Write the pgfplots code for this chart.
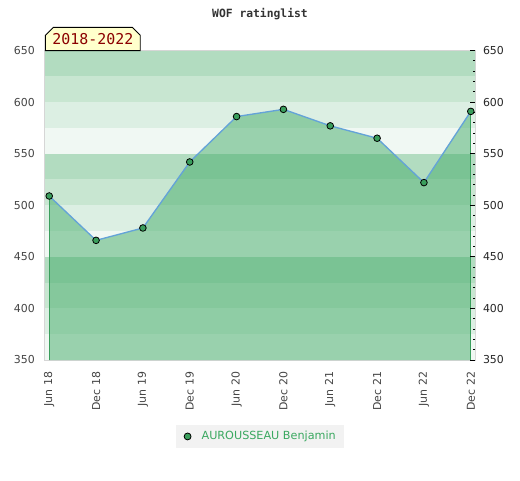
\documentclass[border=0pt]{standalone}
\usepackage{pgfplots}
\pgfplotsset{compat=1.18}
\usepackage{fontspec}
\setmainfont{DejaVu Sans}
\newfontfamily\monofont{DejaVu Sans Mono}
\usetikzlibrary{shapes.misc}
\definecolor{bandA}{HTML}{B2DCC0}
\definecolor{bandB}{HTML}{C8E6D1}
\definecolor{bandC}{HTML}{DCEFE3}
\definecolor{bandD}{HTML}{F0F8F3}
\definecolor{areagreen}{HTML}{44AC69}
\definecolor{edgegreen}{HTML}{3A9E5C}
\definecolor{linecol}{HTML}{64A3D8}
\definecolor{markgreen}{HTML}{3A9E5C}
\definecolor{legtext}{HTML}{3AA860}
\definecolor{legendbg}{HTML}{F2F2F2}
\definecolor{bordergray}{HTML}{D6D6D6}
\definecolor{labgray}{HTML}{444444}
\definecolor{darkred}{HTML}{8B0000}
\definecolor{boxyellow}{HTML}{FFFFCC}

\pgfplotstableread{
x y
0 509
1 466
2 478
3 542
4 586
5 593
6 577
7 565
8 522
9 591
}\ratings

\begin{document}
\begin{tikzpicture}
\useasboundingbox (0,0) rectangle (390pt,-360pt);
\begin{axis}[
  at={(33.75pt,-270pt)}, anchor=south west,
  scale only axis, width=322.5pt, height=232.1pt,
  xmin=-0.09, xmax=9.09, ymin=350, ymax=650,
  xtick={0,...,9},
  xticklabels={Jun 18,Dec 18,Jun 19,Dec 19,Jun 20,Dec 20,Jun 21,Dec 21,Jun 22,Dec 22},
  ytick={350,400,...,650},
  major tick length=0pt, minor tick length=0pt,
  axis line style={draw=bordergray, line width=1.1pt},
  tick label style={font=\fontsize{8.2}{10}\selectfont, text=labgray, inner sep=0pt},
  yticklabel style={xshift=-7.5pt, anchor=east},
  xticklabel style={yshift=-8.8pt, rotate=90, anchor=east},
  /pgf/number format/assume math mode=true,
  legend style={at={(0.5,-0.247)}, anchor=center, draw=none, fill=legendbg,
    font=\fontsize{8.4}{10}\selectfont, inner xsep=4pt, inner ysep=3pt,
    /tikz/every even column/.append style={column sep=0pt},
    nodes={inner sep=2pt}},
  legend cell align=left,
  legend image code/.code={\path[draw=none, fill=none] (-4.5pt,0pt) rectangle (8.5pt,0.1pt); \draw[mark=*, mark size=2.6pt, mark options={fill=markgreen, draw=black, line width=0.6pt}] plot coordinates {(0pt,0pt)};},
]
% background bands
\addplot[draw=none, fill=bandA, forget plot] coordinates {(-1,625) (10,625) (10,650) (-1,650)};
\addplot[draw=none, fill=bandB, forget plot] coordinates {(-1,600) (10,600) (10,625) (-1,625)};
\addplot[draw=none, fill=bandC, forget plot] coordinates {(-1,575) (10,575) (10,600) (-1,600)};
\addplot[draw=none, fill=bandD, forget plot] coordinates {(-1,550) (10,550) (10,575) (-1,575)};
\addplot[draw=none, fill=bandA, forget plot] coordinates {(-1,525) (10,525) (10,550) (-1,550)};
\addplot[draw=none, fill=bandB, forget plot] coordinates {(-1,500) (10,500) (10,525) (-1,525)};
\addplot[draw=none, fill=bandC, forget plot] coordinates {(-1,475) (10,475) (10,500) (-1,500)};
\addplot[draw=none, fill=bandD, forget plot] coordinates {(-1,450) (10,450) (10,475) (-1,475)};
\addplot[draw=none, fill=bandA, forget plot] coordinates {(-1,425) (10,425) (10,450) (-1,450)};
\addplot[draw=none, fill=bandB, forget plot] coordinates {(-1,400) (10,400) (10,425) (-1,425)};
\addplot[draw=none, fill=bandC, forget plot] coordinates {(-1,375) (10,375) (10,400) (-1,400)};
\addplot[draw=none, fill=bandD, forget plot] coordinates {(-1,350) (10,350) (10,375) (-1,375)};
% area
\addplot[draw=none, fill=areagreen, fill opacity=0.5, forget plot] coordinates {
 (0,350) (0,509) (1,466) (2,478) (3,542) (4,586) (5,593) (6,577) (7,565) (8,522) (9,591) (9,350)};
\addplot[edgegreen, line width=0.8pt, forget plot] coordinates {(0,350) (0,509)};
\addplot[edgegreen, line width=0.8pt, forget plot] coordinates {(9,350) (9,591)};
% line
\addplot[linecol, line width=1pt, mark=*, mark size=2.5pt,
  mark options={fill=markgreen, draw=black, line width=0.6pt}] table[x=x, y=y] {\ratings};
\addlegendentry{\textcolor{legtext}{AUROUSSEAU Benjamin}}
\end{axis}
\begin{axis}[
  at={(33.75pt,-270pt)}, anchor=south west,
  scale only axis, width=322.5pt, height=232.1pt,
  xmin=-0.09, xmax=9.09, ymin=350, ymax=650,
  axis x line=none, axis y line*=right,
  axis line style={draw=none},
  ytick={350,400,...,650}, minor y tick num=4,
  tick align=inside,
  major tick length=3.6pt, minor tick length=1.8pt,
  tick style={black, line width=0.6pt},
  tick label style={font=\fontsize{8.2}{10}\selectfont, text=black!85, inner sep=0pt},
  yticklabel style={xshift=5.8pt, anchor=west},
  /pgf/number format/assume math mode=true,
]
\addplot[draw=none] coordinates {(0,350)};
\end{axis}
% title
\node[anchor=base, font=\monofont\bfseries\fontsize{8.5}{10}\selectfont, text=black!80] at (195pt,-13pt) {WOF ratinglist};
% period box
\node[chamfered rectangle, chamfered rectangle corners={north west,north east}, chamfered rectangle xsep=3pt, chamfered rectangle ysep=3pt,
  draw=black, line width=0.7pt, fill=boxyellow, minimum width=71.2pt, minimum height=17.5pt, inner sep=0pt,
  font=\monofont\fontsize{11.2}{12}\selectfont, text=darkred] at (69.6pt,-29.25pt) {2018-2022};
\end{tikzpicture}
\end{document}
